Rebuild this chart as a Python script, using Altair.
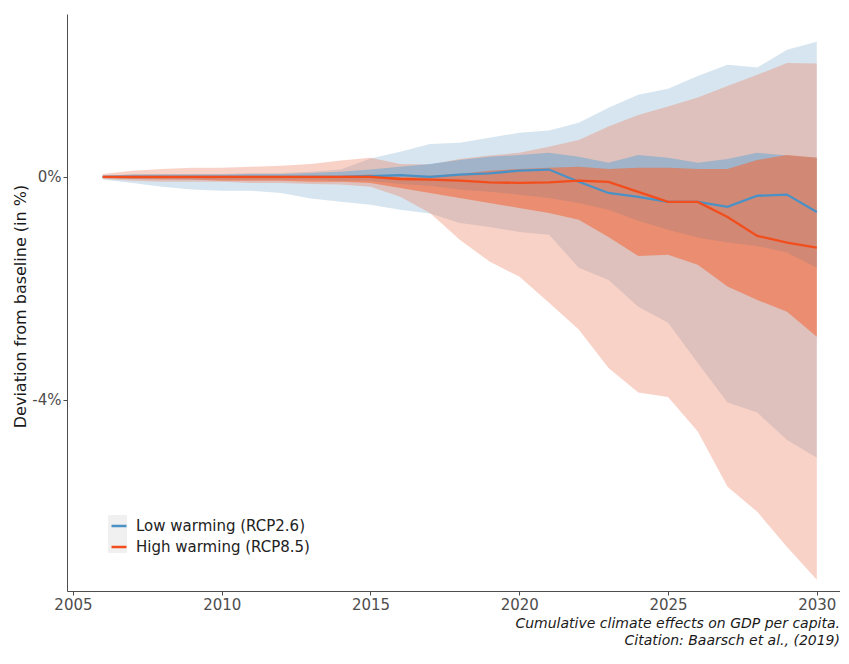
import altair as alt
import pandas as pd

years = list(range(2006, 2031))

# Low warming (RCP2.6) uncertainty bands (deviation in %)
low_outer_lo = [-0.05, -0.11, -0.18, -0.23, -0.25, -0.25, -0.29, -0.39, -0.45, -0.50,
                -0.59, -0.66, -0.83, -0.90, -0.99, -1.04, -1.63, -1.85, -2.33, -2.62,
                -3.34, -4.05, -4.23, -4.72, -5.04]
low_outer_hi = [0.02, 0.04, 0.05, 0.05, 0.05, 0.07, 0.07, 0.09, 0.13, 0.33,
                0.45, 0.59, 0.61, 0.70, 0.79, 0.83, 0.97, 1.24, 1.47, 1.58,
                1.81, 2.01, 1.96, 2.28, 2.42]
low_inner_lo = [-0.02, -0.04, -0.04, -0.05, -0.05, -0.05, -0.05, -0.05, -0.07, -0.07,
                -0.13, -0.16, -0.23, -0.27, -0.32, -0.38, -0.47, -0.59, -0.79, -0.95,
                -1.09, -1.18, -1.24, -1.36, -1.63]
low_inner_hi = [0.02, 0.04, 0.04, 0.04, 0.04, 0.05, 0.05, 0.07, 0.09, 0.13,
                0.18, 0.23, 0.30, 0.36, 0.39, 0.43, 0.36, 0.25, 0.39, 0.34,
                0.25, 0.32, 0.43, 0.38, 0.34]
low_median = [0.0, 0.0, 0.0, 0.0, 0.0, 0.0, 0.0, 0.0, 0.0, 0.01,
              0.03, 0.0, 0.04, 0.06, 0.11, 0.13, -0.09, -0.29, -0.36, -0.45,
              -0.45, -0.54, -0.34, -0.32, -0.63]

# High warming (RCP8.5) uncertainty bands (deviation in %)
high_outer_lo = [-0.04, -0.07, -0.09, -0.09, -0.09, -0.11, -0.11, -0.13, -0.14, -0.18,
                 -0.36, -0.65, -1.13, -1.52, -1.79, -2.26, -2.74, -3.43, -3.87, -3.95,
                 -4.57, -5.56, -6.01, -6.64, -7.23]
high_outer_hi = [0.05, 0.11, 0.14, 0.16, 0.16, 0.18, 0.20, 0.23, 0.29, 0.34,
                 0.23, 0.22, 0.32, 0.38, 0.43, 0.54, 0.66, 0.90, 1.11, 1.26,
                 1.42, 1.63, 1.83, 2.04, 2.03]
high_inner_lo = [-0.02, -0.04, -0.05, -0.05, -0.07, -0.07, -0.07, -0.09, -0.09, -0.11,
                 -0.20, -0.29, -0.38, -0.47, -0.56, -0.65, -0.77, -1.08, -1.42, -1.40,
                 -1.58, -1.97, -2.21, -2.42, -2.87]
high_inner_hi = [0.01, 0.02, 0.02, 0.02, 0.02, 0.02, 0.02, 0.02, 0.02, 0.04,
                 0.0, 0.02, 0.05, 0.11, 0.14, 0.16, 0.18, 0.14, 0.16, 0.16,
                 0.14, 0.14, 0.30, 0.39, 0.34]
high_median = [0.0, 0.0, 0.0, 0.0, 0.0, 0.0, 0.0, 0.0, 0.0, 0.0,
               -0.04, -0.05, -0.07, -0.10, -0.11, -0.10, -0.07, -0.09, -0.27, -0.45,
               -0.45, -0.72, -1.06, -1.18, -1.27]

scenarios = ["Low warming (RCP2.6)", "High warming (RCP8.5)"]
x_ticks = [2005, 2010, 2015, 2020, 2025, 2030]
y_ticks = [0, -4]
y_title = "Deviation from baseline (in %)"
caption_1 = "Cumulative climate effects on GDP per capita."
caption_2 = "Citation: Baarsch et al., (2019)"

bands = pd.DataFrame({
    "year": years,
    "low_outer_lo": low_outer_lo, "low_outer_hi": low_outer_hi,
    "low_inner_lo": low_inner_lo, "low_inner_hi": low_inner_hi,
    "high_outer_lo": high_outer_lo, "high_outer_hi": high_outer_hi,
    "high_inner_lo": high_inner_lo, "high_inner_hi": high_inner_hi,
})
low_df = pd.DataFrame({"year": years, "value": low_median, "scenario": scenarios[0]})
high_df = pd.DataFrame({"year": years, "value": high_median, "scenario": scenarios[1]})

BLUE_LINE = "#4a91c6"
RED_LINE = "#f24d1c"
AXIS_GRAY = "#4d4d4d"

xscale = alt.Scale(domain=[2004.8, 2030.78], nice=False, zero=False)
yscale = alt.Scale(domain=[-7.43, 2.92], nice=False, zero=False)

xaxis = alt.Axis(values=x_ticks, format="d", title=None, grid=False,
                 labelFontSize=15, labelColor=AXIS_GRAY, tickColor=AXIS_GRAY,
                 domainColor=AXIS_GRAY, tickSize=4, labelPadding=2, labelFlush=False)
yaxis = alt.Axis(values=y_ticks, labelExpr="datum.value + '%'", title=y_title,
                 grid=False, labelFontSize=15, labelColor=AXIS_GRAY,
                 tickColor=AXIS_GRAY, domainColor=AXIS_GRAY, tickSize=4,
                 labelPadding=2, titleFontSize=16, titleFontWeight="normal",
                 titleColor="#1a1a1a", titleX=-47, titleY=292, titleAngle=270,
                 titleBaseline="middle", titleAlign="center")

X = alt.X("year:Q", scale=xscale, axis=xaxis)


def band(lo, hi, color, op):
    return alt.Chart(bands).mark_area(color=color, opacity=op).encode(
        x=X,
        y=alt.Y(f"{lo}:Q", scale=yscale, axis=yaxis),
        y2=alt.Y2(f"{hi}:Q"),
    )


color_scale = alt.Scale(domain=scenarios, range=[BLUE_LINE, RED_LINE])
legend = alt.Legend(title=None, orient="none", legendX=43, legendY=503,
                    symbolType="stroke", symbolSize=225, symbolStrokeWidth=2.5,
                    labelFontSize=15, labelColor="#222222", labelOffset=8,
                    labelLimit=0, rowPadding=4, padding=0)

blue_line = alt.Chart(low_df).mark_line(strokeWidth=2.3).encode(
    x=X, y=alt.Y("value:Q", scale=yscale, axis=yaxis),
    color=alt.Color("scenario:N", scale=color_scale, legend=legend),
)
red_line = alt.Chart(high_df).mark_line(strokeWidth=2.3).encode(
    x=X, y=alt.Y("value:Q", scale=yscale, axis=yaxis),
    color=alt.Color("scenario:N", scale=color_scale, legend=legend),
)

one = pd.DataFrame({"k": [0]})
key_bg = alt.Chart(one).mark_rect(color="#f0f0f0").encode(
    x=alt.value(41), x2=alt.value(60), y=alt.value(501), y2=alt.value(539)
)
cap1 = alt.Chart(one).mark_text(
    text=caption_1, align="right", baseline="alphabetic", fontSize=14,
    fontStyle="italic", color="#1a1a1a"
).encode(x=alt.value(773), y=alt.value(614))
cap2 = alt.Chart(one).mark_text(
    text=caption_2, align="right", baseline="alphabetic", fontSize=14,
    fontStyle="italic", color="#1a1a1a"
).encode(x=alt.value(773), y=alt.value(631))

chart = alt.layer(
    band("low_outer_lo", "low_outer_hi", "#5b97bf", 0.25),
    band("high_outer_lo", "high_outer_hi", "#ee7e5f", 0.35),
    band("low_inner_lo", "low_inner_hi", "#62a5d4", 0.5),
    band("high_inner_lo", "high_inner_hi", "#f26b3d", 0.6),
    key_bg,
    blue_line,
    red_line,
    cap1,
    cap2,
).properties(
    width=773, height=577,
    autosize=alt.AutoSizeParams(type="none"),
    padding={"left": 59, "top": 6, "right": 0, "bottom": 57},
).configure(font="DejaVu Sans").configure_view(strokeWidth=0)

chart.save("out.html", embed_options={"renderer": "svg", "actions": False})
